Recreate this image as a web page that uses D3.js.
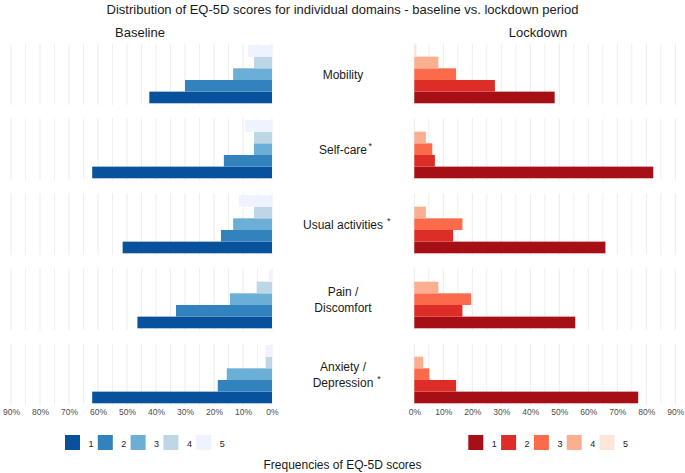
<!DOCTYPE html>
<html><head><meta charset="utf-8">
<script src="https://cdn.jsdelivr.net/npm/d3@7"></script>
<style>body{margin:0;background:#fff;} svg{display:block;font-family:"Liberation Sans",Arial,sans-serif;}</style>
</head><body>
<script>
const domains = ["Mobility","Self-care","Usual activities","Pain / Discomfort","Anxiety / Depression"];
const domainLines = [["Mobility"],["Self-care"],["Usual activities"],["Pain /","Discomfort"],["Anxiety /","Depression"]];
const significant = [false,true,true,false,true];
const scores = ["1","2","3","4","5"];
// percentages per domain, scores 1..5
const baseline = [
  [42.3,30.0,13.4,6.2,8.3],
  [62.0,16.6,6.2,6.2,9.3],
  [51.5,17.6,13.4,6.2,11.4],
  [46.4,33.1,14.5,5.3,1.0],
  [62.0,18.7,15.6,2.2,2.2]
];
const lockdown = [
  [48.4,27.8,14.4,8.3,0.8],
  [82.4,7.1,6.2,4.0,0],
  [65.9,13.4,16.6,4.0,0],
  [55.5,16.6,19.6,8.3,0],
  [77.2,14.4,5.2,3.1,0]
];
const tickValues = [0,10,20,30,40,50,60,70,80,90];
const blues = ["#08519c","#3182bd","#6baed6","#bdd7e7","#eff3ff"];
const reds = ["#a50f15","#de2d26","#fb6a4a","#fcae91","#fee5d9"];

const W=685,H=473;
const svg=d3.select("body").append("svg").attr("width",W).attr("height",H);

const xL=d3.scaleLinear().domain([0,90]).range([272,11]);
const xR=d3.scaleLinear().domain([0,90]).range([414.3,675.3]);
const panelY=d3.scaleBand().domain(domains).range([43.3,405]).paddingInner(0.1773).paddingOuter(0);
const ph=panelY.bandwidth();

// gridlines
const gridVals=d3.range(0,91,5);
domains.forEach(d=>{
  const y0=panelY(d);
  [xL,xR].forEach(x=>{
    svg.append("g").selectAll("line").data(gridVals).join("line")
      .attr("x1",v=>x(v)).attr("x2",v=>x(v))
      .attr("y1",y0).attr("y2",y0+ph)
      .attr("stroke","#ebebeb").attr("stroke-width",v=>v%10===0?1:0.8);
  });
});

// bars
domains.forEach((d,i)=>{
  const y0=panelY(d);
  const yb=d3.scaleBand().domain(scores.slice().reverse()).range([y0+1.7,y0+ph-1.7]);
  const g=svg.append("g");
  g.selectAll("rect.b").data(baseline[i]).join("rect").attr("class","b")
    .filter(v=>v>0)
    .attr("x",v=>xL(v)).attr("width",v=>xL(0)-xL(v))
    .attr("y",(v,j)=>yb(scores[j])).attr("height",yb.bandwidth())
    .attr("fill",(v,j)=>blues[j]);
  g.selectAll("rect.r").data(lockdown[i]).join("rect").attr("class","r")
    .filter(v=>v>0)
    .attr("x",xR(0)).attr("width",v=>xR(v)-xR(0))
    .attr("y",(v,j)=>yb(scores[j])).attr("height",yb.bandwidth())
    .attr("fill",(v,j)=>reds[j]);
  // label
  const cy=y0+ph/2;
  const lines=domainLines[i];
  const t=svg.append("text").attr("text-anchor","middle").attr("font-size",12).attr("fill","#1a1a1a");
  lines.forEach((ln,k)=>{
    t.append("tspan").attr("x",343).attr("y",cy+4.5+(k-(lines.length-1)/2)*16).text(ln);
  });
  if(significant[i]){
    const node=t.selectAll("tspan").nodes().pop();
    const bb=node.getComputedTextLength();
    const gap = i===1?1.5:4;
    svg.append("text").attr("x",343+bb/2+gap).attr("y",cy+4.5+((lines.length-1)/2)*16-5)
      .attr("font-size",9).attr("fill","#1a1a1a").text("*");
  }
});

// axes
const axL=d3.axisBottom(xL).tickValues(tickValues).tickFormat(v=>v+"%").tickSize(0).tickPadding(0);
const axR=d3.axisBottom(xR).tickValues(tickValues).tickFormat(v=>v+"%").tickSize(0).tickPadding(0);
[axL,axR].forEach(ax=>{
  const g=svg.append("g").attr("transform","translate(0,409)").call(ax);
  g.select(".domain").remove();
  g.selectAll("text").attr("font-size",8.5).attr("fill","#4d4d4d").attr("font-family","Liberation Sans, Arial, sans-serif");
});

// titles
svg.append("text").attr("x",342.5).attr("y",14).attr("text-anchor","middle").attr("font-size",13).attr("fill","#1a1a1a")
  .text("Distribution of EQ-5D scores for individual domains - baseline vs. lockdown period");
svg.append("text").attr("x",140).attr("y",37).attr("text-anchor","middle").attr("font-size",13).attr("fill","#1a1a1a").text("Baseline");
svg.append("text").attr("x",538).attr("y",37).attr("text-anchor","middle").attr("font-size",13).attr("fill","#1a1a1a").text("Lockdown");
svg.append("text").attr("x",342.5).attr("y",469).attr("text-anchor","middle").attr("font-size",12).attr("fill","#1a1a1a").text("Frequencies of EQ-5D scores");

// legends
function legend(x0,cols){
  const g=svg.append("g").attr("transform",`translate(${x0},435)`);
  const items=g.selectAll("g").data(scores).join("g").attr("transform",(d,i)=>`translate(${i*32.8},0)`);
  items.append("rect").attr("width",15).attr("height",15).attr("fill",(d,i)=>cols[i]);
  items.append("text").attr("x",23.5).attr("y",11.5).attr("font-size",9).attr("fill","#1a1a1a").text(d=>d);
}
legend(65,blues);
legend(468.3,reds);
</script>
</body></html>
